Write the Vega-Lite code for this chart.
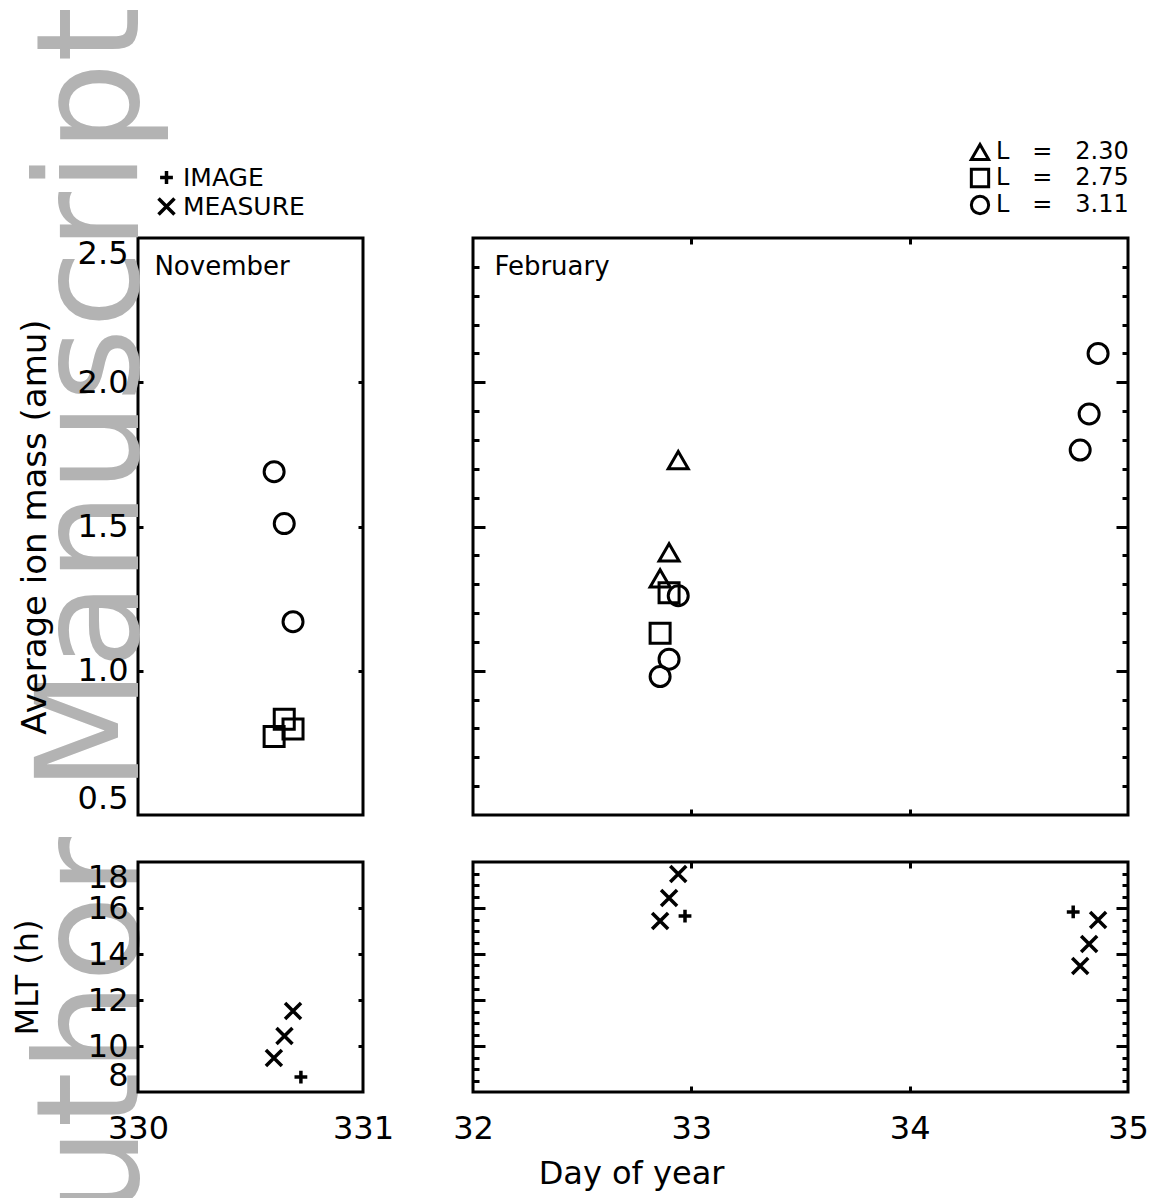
{
  "$schema": "https://vega.github.io/schema/vega-lite/v6.json",
  "autosize": "none",
  "padding": {"left": 138, "top": 238, "right": 1022, "bottom": 960},
  "background": "white",
  "bounds": "flush",
  "columns": 2,
  "spacing": {"row": 47, "column": 110},
  "resolve": {"scale": {"shape": "independent"}, "legend": {"shape": "independent"}},
  "config": {
    "view": {"stroke": "black", "strokeWidth": 3},
    "axis": {
      "grid": false, "domain": false,
      "labelFont": "DejaVu Sans", "titleFont": "DejaVu Sans",
      "labelColor": "black", "titleColor": "black", "tickColor": "black",
      "labelFontSize": 32, "titleFontSize": 32, "titleFontWeight": "normal",
      "labelOverlap": false, "tickWidth": 3
    },
    "legend": {"labelFont": "DejaVu Sans", "labelColor": "black", "labelFontSize": 25, "labelLimit": 400},
    "text": {"font": "DejaVu Sans"}
  },
  "concat": [
    {
      "width": 225, "height": 577,
      "data": {"values": [
        {"day": 330.605, "mass": 1.69, "L": "3.11"},
        {"day": 330.650, "mass": 1.51, "L": "3.11"},
        {"day": 330.689, "mass": 1.17, "L": "3.11"},
        {"day": 330.605, "mass": 0.772, "L": "2.75"},
        {"day": 330.650, "mass": 0.832, "L": "2.75"},
        {"day": 330.689, "mass": 0.798, "L": "2.75"}
      ]},
      "resolve": {"axis": {"x": "independent", "y": "independent"}},
      "layer": [
        {
          "data": {"values": [{"day": 330.0, "mass": -1.233, "label": "Author Manuscript"}]},
          "mark": {"type": "text", "angle": 270, "align": "left", "baseline": "alphabetic", "font": "DejaVu Sans", "fontSize": 142, "fill": "#b3b3b3"},
          "encoding": {
            "x": {"field": "day", "type": "quantitative", "scale": {"domain": [330, 331], "nice": false, "zero": false}, "axis": null},
            "y": {"field": "mass", "type": "quantitative", "scale": {"domain": [0.5, 2.5], "nice": false, "zero": false}, "axis": null},
            "text": {"field": "label"}
          }
        },
        {
          "data": {"values": [{"day": 330.073, "mass": 2.372, "label": "November"}]},
          "mark": {"type": "text", "align": "left", "baseline": "alphabetic", "fontSize": 26, "fill": "black"},
          "encoding": {
            "x": {"field": "day", "type": "quantitative", "scale": {"domain": [330, 331], "nice": false, "zero": false}, "axis": null},
            "y": {"field": "mass", "type": "quantitative", "scale": {"domain": [0.5, 2.5], "nice": false, "zero": false}, "axis": null},
            "text": {"field": "label"}
          }
        },
        {
          "mark": {"type": "point", "filled": false, "stroke": "black", "strokeWidth": 3, "size": 400, "opacity": 1},
          "encoding": {
            "x": {"field": "day", "type": "quantitative", "scale": {"domain": [330, 331], "nice": false, "zero": false}, "axis": null},
            "y": {"field": "mass", "type": "quantitative", "scale": {"domain": [0.5, 2.5], "nice": false, "zero": false},
                  "axis": {"orient": "left", "values": [0.5, 1, 1.5, 2, 2.5], "format": ".1f", "ticks": false, "labelPadding": 10, "labelFlush": true,
                           "title": "Average ion mass (amu)", "titleFontSize": 34, "titleX": -93, "titleY": 288.5, "titleAngle": 270, "titleAlign": "center", "titleBaseline": "alphabetic", "zindex": 1}},
            "shape": {"field": "L", "type": "nominal", "scale": {"domain": ["2.30", "2.75", "3.11"], "range": ["triangle-up", "square", "circle"]}, "legend": null}
          }
        },
        {
          "mark": {"type": "point", "opacity": 0},
          "encoding": {
            "x": {"field": "day", "type": "quantitative", "scale": {"domain": [330, 331], "nice": false, "zero": false}, "axis": null},
            "y": {"field": "mass", "type": "quantitative", "scale": {"domain": [0.5, 2.5], "nice": false, "zero": false},
                  "axis": {"orient": "left", "values": [1, 1.5, 2], "labels": false, "tickSize": -5, "title": null, "zindex": 1}}
          }
        },
        {
          "mark": {"type": "point", "opacity": 0},
          "encoding": {
            "x": {"field": "day", "type": "quantitative", "scale": {"domain": [330, 331], "nice": false, "zero": false}, "axis": null},
            "y": {"field": "mass", "type": "quantitative", "scale": {"domain": [0.5, 2.5], "nice": false, "zero": false},
                  "axis": {"orient": "right", "values": [1, 1.5, 2], "labels": false, "tickSize": -5, "title": null, "zindex": 1}}
          }
        }
      ]
    },
    {
      "width": 655, "height": 577,
      "data": {"values": [
        {"day": 32.857, "mass": 1.32, "L": "2.30"},
        {"day": 32.898, "mass": 1.41, "L": "2.30"},
        {"day": 32.940, "mass": 1.73, "L": "2.30"},
        {"day": 32.857, "mass": 1.13, "L": "2.75"},
        {"day": 32.898, "mass": 1.27, "L": "2.75"},
        {"day": 32.857, "mass": 0.98, "L": "3.11"},
        {"day": 32.898, "mass": 1.04, "L": "3.11"},
        {"day": 32.940, "mass": 1.26, "L": "3.11"},
        {"day": 34.781, "mass": 1.765, "L": "3.11"},
        {"day": 34.822, "mass": 1.89, "L": "3.11"},
        {"day": 34.863, "mass": 2.10, "L": "3.11"}
      ]},
      "resolve": {"axis": {"x": "independent", "y": "independent"}},
      "layer": [
        {
          "data": {"values": [{"day": 32.098, "mass": 2.372, "label": "February"}]},
          "mark": {"type": "text", "align": "left", "baseline": "alphabetic", "fontSize": 26, "fill": "black"},
          "encoding": {
            "x": {"field": "day", "type": "quantitative", "scale": {"domain": [32, 35], "nice": false, "zero": false}, "axis": null},
            "y": {"field": "mass", "type": "quantitative", "scale": {"domain": [0.5, 2.5], "nice": false, "zero": false}, "axis": null},
            "text": {"field": "label"}
          }
        },
        {
          "mark": {"type": "point", "filled": false, "stroke": "black", "strokeWidth": 3, "size": 400, "opacity": 1},
          "encoding": {
            "x": {"field": "day", "type": "quantitative", "scale": {"domain": [32, 35], "nice": false, "zero": false}, "axis": null},
            "y": {"field": "mass", "type": "quantitative", "scale": {"domain": [0.5, 2.5], "nice": false, "zero": false}, "axis": null},
            "shape": {"field": "L", "type": "nominal", "scale": {"domain": ["2.30", "2.75", "3.11"], "range": ["triangle-up", "square", "circle"]},
                      "legend": {"orient": "none", "legendX": 495, "legendY": -98, "title": null, "padding": 0, "offset": 0,
                                 "symbolSize": 300, "symbolStrokeWidth": 3, "symbolStrokeColor": "black", "symbolFillColor": "transparent",
                                 "labelFontSize": 24, "labelOffset": 4, "rowPadding": -3,
                                 "labelExpr": "'L\u00a0\u00a0\u00a0=\u00a0\u00a0\u00a0' + datum.label"}}
          }
        },
        {
          "mark": {"type": "point", "opacity": 0},
          "encoding": {
            "x": {"field": "day", "type": "quantitative", "scale": {"domain": [32, 35], "nice": false, "zero": false},
                  "axis": {"orient": "bottom", "values": [33, 34], "labels": false, "tickSize": -6, "title": null}},
            "y": {"field": "mass", "type": "quantitative", "scale": {"domain": [0.5, 2.5], "nice": false, "zero": false},
                  "axis": {"orient": "left", "values": [1, 1.5, 2], "labels": false, "tickSize": -12, "title": null}}
          }
        },
        {
          "mark": {"type": "point", "opacity": 0},
          "encoding": {
            "x": {"field": "day", "type": "quantitative", "scale": {"domain": [32, 35], "nice": false, "zero": false},
                  "axis": {"orient": "top", "values": [33, 34], "labels": false, "tickSize": -6, "title": null}},
            "y": {"field": "mass", "type": "quantitative", "scale": {"domain": [0.5, 2.5], "nice": false, "zero": false},
                  "axis": {"orient": "right", "values": [1, 1.5, 2], "labels": false, "tickSize": -12, "title": null}}
          }
        },
        {
          "mark": {"type": "point", "opacity": 0},
          "encoding": {
            "x": {"field": "day", "type": "quantitative", "scale": {"domain": [32, 35], "nice": false, "zero": false}, "axis": null},
            "y": {"field": "mass", "type": "quantitative", "scale": {"domain": [0.5, 2.5], "nice": false, "zero": false},
                  "axis": {"orient": "left", "values": [0.6, 0.7, 0.8, 0.9, 1.1, 1.2, 1.3, 1.4, 1.6, 1.7, 1.8, 1.9, 2.1, 2.2, 2.3, 2.4], "labels": false, "tickSize": -6, "title": null}}
          }
        },
        {
          "mark": {"type": "point", "opacity": 0},
          "encoding": {
            "x": {"field": "day", "type": "quantitative", "scale": {"domain": [32, 35], "nice": false, "zero": false}, "axis": null},
            "y": {"field": "mass", "type": "quantitative", "scale": {"domain": [0.5, 2.5], "nice": false, "zero": false},
                  "axis": {"orient": "right", "values": [0.6, 0.7, 0.8, 0.9, 1.1, 1.2, 1.3, 1.4, 1.6, 1.7, 1.8, 1.9, 2.1, 2.2, 2.3, 2.4], "labels": false, "tickSize": -6, "title": null}}
          }
        }
      ]
    },
    {
      "width": 225, "height": 230,
      "data": {"values": [
        {"day": 330.604, "mlt": 9.48, "source": "MEASURE"},
        {"day": 330.651, "mlt": 10.43, "source": "MEASURE"},
        {"day": 330.689, "mlt": 11.52, "source": "MEASURE"},
        {"day": 330.724, "mlt": 8.65, "source": "IMAGE"}
      ]},
      "resolve": {"axis": {"x": "independent", "y": "independent"}},
      "layer": [
        {
          "mark": {"type": "point", "filled": false, "stroke": "black", "strokeWidth": 3.5, "size": 256, "opacity": 1},
          "encoding": {
            "x": {"field": "day", "type": "quantitative", "scale": {"domain": [330, 331], "nice": false, "zero": false},
                  "axis": {"orient": "bottom", "values": [330, 331], "format": "d", "ticks": false, "labelPadding": 21, "labelFlush": false, "title": null}},
            "y": {"field": "mlt", "type": "quantitative", "scale": {"domain": [8, 18], "nice": false, "zero": false},
                  "axis": {"orient": "left", "values": [8, 10, 12, 14, 16, 18], "format": "d", "ticks": false, "labelPadding": 10, "labelFlush": true,
                           "title": "MLT (h)", "titleX": -101, "titleY": 115, "titleAngle": 270, "titleAlign": "center", "titleBaseline": "alphabetic"}},
            "shape": {"field": "source", "type": "nominal", "scale": {"domain": ["IMAGE", "MEASURE"], "range": ["M-0.8,0L0.8,0M0,-0.8L0,0.8", "M-1,-1L1,1M-1,1L1,-1"]},
                      "legend": {"orient": "none", "legendX": 16, "legendY": -697, "title": null, "padding": 0, "offset": 0,
                                 "symbolSize": 256, "symbolStrokeWidth": 3.5, "symbolStrokeColor": "black", "symbolFillColor": "transparent",
                                 "labelOffset": 4, "rowPadding": 0}}
          }
        },
        {
          "mark": {"type": "point", "opacity": 0},
          "encoding": {
            "x": {"field": "day", "type": "quantitative", "scale": {"domain": [330, 331], "nice": false, "zero": false}, "axis": null},
            "y": {"field": "mlt", "type": "quantitative", "scale": {"domain": [8, 18], "nice": false, "zero": false},
                  "axis": {"orient": "left", "values": [10, 12, 14, 16], "labels": false, "tickSize": -5, "title": null}}
          }
        },
        {
          "mark": {"type": "point", "opacity": 0},
          "encoding": {
            "x": {"field": "day", "type": "quantitative", "scale": {"domain": [330, 331], "nice": false, "zero": false}, "axis": null},
            "y": {"field": "mlt", "type": "quantitative", "scale": {"domain": [8, 18], "nice": false, "zero": false},
                  "axis": {"orient": "right", "values": [10, 12, 14, 16], "labels": false, "tickSize": -5, "title": null}}
          }
        }
      ]
    },
    {
      "width": 655, "height": 230,
      "data": {"values": [
        {"day": 32.857, "mlt": 15.43, "source": "MEASURE"},
        {"day": 32.898, "mlt": 16.43, "source": "MEASURE"},
        {"day": 32.940, "mlt": 17.48, "source": "MEASURE"},
        {"day": 32.971, "mlt": 15.65, "source": "IMAGE"},
        {"day": 34.781, "mlt": 13.48, "source": "MEASURE"},
        {"day": 34.822, "mlt": 14.43, "source": "MEASURE"},
        {"day": 34.863, "mlt": 15.48, "source": "MEASURE"},
        {"day": 34.749, "mlt": 15.83, "source": "IMAGE"}
      ]},
      "resolve": {"axis": {"x": "independent", "y": "independent"}},
      "layer": [
        {
          "mark": {"type": "point", "filled": false, "stroke": "black", "strokeWidth": 3.5, "size": 256, "opacity": 1},
          "encoding": {
            "x": {"field": "day", "type": "quantitative", "scale": {"domain": [32, 35], "nice": false, "zero": false},
                  "axis": {"orient": "bottom", "values": [32, 33, 34, 35], "format": "d", "ticks": false, "labelPadding": 21, "labelFlush": false,
                           "title": "Day of year", "titleX": 158, "titleY": 91, "titleAlign": "center", "titleBaseline": "alphabetic"}},
            "y": {"field": "mlt", "type": "quantitative", "scale": {"domain": [8, 18], "nice": false, "zero": false}, "axis": null},
            "shape": {"field": "source", "type": "nominal", "scale": {"domain": ["IMAGE", "MEASURE"], "range": ["M-0.8,0L0.8,0M0,-0.8L0,0.8", "M-1,-1L1,1M-1,1L1,-1"]}, "legend": null}
          }
        },
        {
          "mark": {"type": "point", "opacity": 0},
          "encoding": {
            "x": {"field": "day", "type": "quantitative", "scale": {"domain": [32, 35], "nice": false, "zero": false},
                  "axis": {"orient": "bottom", "values": [33, 34], "labels": false, "tickSize": -6, "title": null}},
            "y": {"field": "mlt", "type": "quantitative", "scale": {"domain": [8, 18], "nice": false, "zero": false},
                  "axis": {"orient": "left", "values": [10, 12, 14, 16], "labels": false, "tickSize": -12, "title": null}}
          }
        },
        {
          "mark": {"type": "point", "opacity": 0},
          "encoding": {
            "x": {"field": "day", "type": "quantitative", "scale": {"domain": [32, 35], "nice": false, "zero": false},
                  "axis": {"orient": "top", "values": [33, 34], "labels": false, "tickSize": -6, "title": null}},
            "y": {"field": "mlt", "type": "quantitative", "scale": {"domain": [8, 18], "nice": false, "zero": false},
                  "axis": {"orient": "right", "values": [10, 12, 14, 16], "labels": false, "tickSize": -12, "title": null}}
          }
        },
        {
          "mark": {"type": "point", "opacity": 0},
          "encoding": {
            "x": {"field": "day", "type": "quantitative", "scale": {"domain": [32, 35], "nice": false, "zero": false}, "axis": null},
            "y": {"field": "mlt", "type": "quantitative", "scale": {"domain": [8, 18], "nice": false, "zero": false},
                  "axis": {"orient": "left", "values": [8.5, 9, 9.5, 10.5, 11, 11.5, 12.5, 13, 13.5, 14.5, 15, 15.5, 16.5, 17, 17.5], "labels": false, "tickSize": -6, "title": null}}
          }
        },
        {
          "mark": {"type": "point", "opacity": 0},
          "encoding": {
            "x": {"field": "day", "type": "quantitative", "scale": {"domain": [32, 35], "nice": false, "zero": false}, "axis": null},
            "y": {"field": "mlt", "type": "quantitative", "scale": {"domain": [8, 18], "nice": false, "zero": false},
                  "axis": {"orient": "right", "values": [8.5, 9, 9.5, 10.5, 11, 11.5, 12.5, 13, 13.5, 14.5, 15, 15.5, 16.5, 17, 17.5], "labels": false, "tickSize": -6, "title": null}}
          }
        }
      ]
    }
  ]
}
